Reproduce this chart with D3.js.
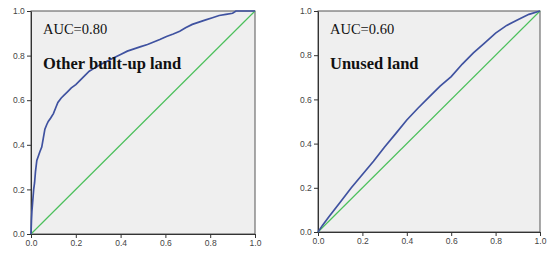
<!DOCTYPE html>
<html>
<head>
<meta charset="utf-8">
<script src="https://cdn.jsdelivr.net/npm/d3@7"></script>
<style>
  body { margin: 0; background: #fff; }
  svg { display: block; }
</style>
</head>
<body>
<svg id="chart" width="550" height="257"></svg>
<script>
// ROC points (false positive rate, true positive rate)
const builtFpr = [0, 0.002, 0.004, 0.008, 0.012, 0.016, 0.02, 0.026, 0.033, 0.04, 0.048, 0.055, 0.062, 0.07, 0.077, 0.088, 0.1, 0.11, 0.12, 0.135, 0.15, 0.165, 0.18, 0.2, 0.22, 0.24, 0.26, 0.285, 0.31, 0.34, 0.37, 0.4, 0.43, 0.46, 0.49, 0.52, 0.545, 0.575, 0.605, 0.635, 0.664, 0.69, 0.72, 0.75, 0.78, 0.81, 0.84, 0.87, 0.9, 0.915, 0.95, 1.0];
const builtTpr = [0, 0.06, 0.1, 0.15, 0.2, 0.23, 0.28, 0.33, 0.35, 0.37, 0.39, 0.43, 0.47, 0.49, 0.505, 0.52, 0.54, 0.565, 0.59, 0.61, 0.625, 0.64, 0.655, 0.67, 0.69, 0.71, 0.73, 0.745, 0.76, 0.775, 0.79, 0.805, 0.82, 0.83, 0.84, 0.85, 0.86, 0.872, 0.886, 0.897, 0.909, 0.925, 0.94, 0.95, 0.96, 0.97, 0.98, 0.985, 0.99, 1.0, 1.0, 1.0];

const unusedFpr = [0, 0.02, 0.05, 0.1, 0.15, 0.2, 0.25, 0.3, 0.35, 0.4, 0.45, 0.5, 0.55, 0.6, 0.65, 0.7, 0.75, 0.8, 0.85, 0.9, 0.95, 1.0];
const unusedTpr = [0, 0.03, 0.07, 0.135, 0.2, 0.26, 0.32, 0.385, 0.445, 0.507, 0.56, 0.61, 0.66, 0.703, 0.76, 0.81, 0.855, 0.9, 0.935, 0.96, 0.985, 1.0];

const tickValues = [0, 0.2, 0.4, 0.6, 0.8, 1.0];

const panels = [
  { auc: "AUC=0.80", name: "Other built-up land", fpr: builtFpr, tpr: builtTpr,
    x0: 31, x1: 255, y0: 234, y1: 11 },
  { auc: "AUC=0.60", name: "Unused land", fpr: unusedFpr, tpr: unusedTpr,
    x0: 318, x1: 540, y0: 232, y1: 11 }
];

const svg = d3.select("#chart");

panels.forEach(p => {
  const x = d3.scaleLinear().domain([0, 1]).range([p.x0, p.x1]);
  const y = d3.scaleLinear().domain([0, 1]).range([p.y0, p.y1]);
  const g = svg.append("g");

  // plot background
  g.append("rect")
    .attr("x", p.x0).attr("y", p.y1)
    .attr("width", p.x1 - p.x0).attr("height", p.y0 - p.y1)
    .attr("fill", "#efefef")
    .attr("stroke", "#555").attr("stroke-width", 1);

  // axes
  const xAxis = g.append("g")
    .attr("transform", `translate(0,${p.y0})`)
    .call(d3.axisBottom(x).tickValues(tickValues).tickFormat(d3.format(".1f")).tickSize(4).tickSizeOuter(0));
  const yAxis = g.append("g")
    .attr("transform", `translate(${p.x0},0)`)
    .call(d3.axisLeft(y).tickValues(tickValues).tickFormat(d3.format(".1f")).tickSize(4).tickSizeOuter(0));
  [xAxis, yAxis].forEach(a => {
    a.select(".domain").attr("stroke", "#333");
    a.selectAll(".tick line").attr("stroke", "#333");
    a.selectAll(".tick text")
      .attr("fill", "#444")
      .style("font-family", "Arial, 'Liberation Sans', sans-serif")
      .style("font-size", "8.5px");
  });
  xAxis.selectAll(".tick text").attr("dy", "0.6em");
  yAxis.selectAll(".tick text").attr("dx", "0.1em");

  // reference diagonal
  g.append("line")
    .attr("x1", x(0)).attr("y1", y(0))
    .attr("x2", x(1)).attr("y2", y(1))
    .attr("stroke", "#4cc05c").attr("stroke-width", 1.2);

  // ROC curve
  const pts = p.fpr.map((f, i) => [f, p.tpr[i]]);
  const line = d3.line()
    .x(d => x(d[0])).y(d => y(d[1]));
  g.append("path")
    .datum(pts)
    .attr("d", line)
    .attr("fill", "none")
    .attr("stroke", "#3f52a0")
    .attr("stroke-width", 1.7);

  // labels
  g.append("text")
    .attr("x", p.x0 + 12).attr("y", 34)
    .style("font-family", "'Times New Roman', 'Liberation Serif', serif")
    .style("font-size", "14.5px")
    .attr("fill", "#111")
    .text(p.auc);
  g.append("text")
    .attr("x", p.x0 + 12).attr("y", 69)
    .style("font-family", "'Times New Roman', 'Liberation Serif', serif")
    .style("font-size", "16.5px")
    .style("font-weight", "bold")
    .attr("fill", "#111")
    .text(p.name);
});
</script>
</body>
</html>
